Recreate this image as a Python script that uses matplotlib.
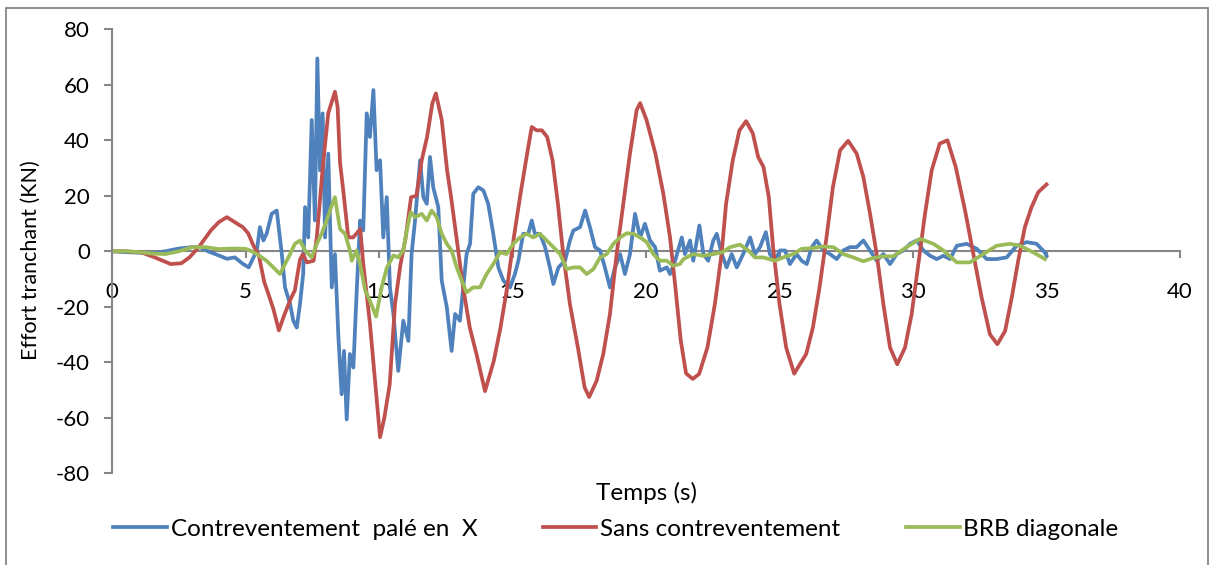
import matplotlib
matplotlib.use("Agg")
import matplotlib.pyplot as plt
from matplotlib.patches import Rectangle

plt.rcParams['font.family'] = ['Lato', 'DejaVu Sans']

# ---- data ----
t_x = [0, 0.5, 1.0, 1.5, 2.0, 2.5, 3.0, 3.3, 3.6, 4.0, 4.3, 4.6, 4.9, 5.12, 5.24, 5.36,
       5.42, 5.54, 5.67, 5.79, 5.98, 6.17, 6.36, 6.48, 6.67, 6.79, 6.92, 7.04, 7.16, 7.23,
       7.35, 7.48, 7.60, 7.69, 7.79, 7.89, 7.98, 8.10, 8.23, 8.35, 8.48, 8.60, 8.69, 8.79,
       8.91, 9.04, 9.16, 9.29, 9.41, 9.54, 9.66, 9.79, 9.91, 10.04, 10.16, 10.29, 10.41,
       10.54, 10.72, 10.91, 11.10, 11.22, 11.35, 11.54, 11.66, 11.79, 11.91, 12.03, 12.22,
       12.35, 12.54, 12.72, 12.85, 13.03, 13.28, 13.41, 13.53, 13.72, 13.91, 14.09, 14.28,
       14.47, 14.66, 14.91, 15.09, 15.22, 15.40, 15.59, 15.72, 15.84, 16.03, 16.22, 16.40,
       16.53, 16.72, 16.97, 17.15, 17.28, 17.53, 17.72, 17.90, 18.09, 18.28, 18.46, 18.65,
       18.84, 19.03, 19.21, 19.40, 19.59, 19.78, 19.96, 20.15, 20.34, 20.52, 20.78, 20.90,
       21.09, 21.34, 21.46, 21.65, 21.77, 22.00, 22.15, 22.33, 22.52, 22.65, 22.84, 23.02,
       23.21, 23.40, 23.64, 23.90, 24.08, 24.27, 24.49, 24.64, 24.83, 25.02, 25.21, 25.39,
       25.64, 25.83, 26.02, 26.21, 26.39, 26.64, 26.89, 27.14, 27.39, 27.64, 27.89, 28.14,
       28.39, 28.64, 28.89, 29.14, 29.39, 29.64, 29.89, 30.14, 30.39, 30.64, 30.89, 31.14,
       31.39, 31.64, 32.01, 32.39, 32.76, 33.13, 33.51, 33.88, 34.26, 34.63, 34.94, 35.0]
v_x = [0, -0.3, -0.5, -0.7, 0, 1, 1.5, 1.5, 0, -1.5, -2.7, -2.2, -4.5, -5.8, -3.4, -1,
       0, 8.7, 3.9, 6.3, 13.5, 14.7, -1, -13, -19, -25, -27.5, -19, -8.2, 15.9,
       5, 47.3, 11.1, 69.5, 29.2, 49.7, 5, 35.2, -13, -1, -31, -51.5, -35.9, -60.6,
       -37, -41.9, -15.4, 11.1, 7.5, 49.7, 41.2, 58.1, 29.2, 32.8, 5, 19.5, -13,
       -22.6, -43.1, -25, -32.3, -1, 11.1, 32.8, 19.5, 17.1, 34, 23.1, 15.9,
       -10.6, -20.2, -35.9, -22.6, -25, -1, 2.7, 20.7, 23.1, 21.9, 17.1, 6.3,
       -5.8, -10.6, -13, -8.2, -3.4, 6.3, 6.3, 11.1, 6.3, 6.3, 1.5, -5.8,
       -11.8, -5.8, -3.4, 3.9, 7.5, 8.7, 14.7, 8.7, 1.5, 0.3, -5.8, -13,
       -5.8, -1, -8.2, -1, 13.5, 5, 9.9, 3.9, 1.5, -7, -5.8, -8.2,
       -3.4, 5, -1, 3.9, -3.4, 9.3, -1, -3.4, 3.9, 6.3, -1, -5.8,
       -1, -5.8, -1, 5, -1, 1.5, 6.9, -1, -3.4, 0.3, 0.3, -4.6,
       -1, -3.4, -4.6, 1.5, 3.9, 0.3, -1, -2.8, 0.3, 1.5, 1.5, 3.9,
       0.3, -3.4, -1, -4.6, -1, 0.3, 2.7, 3.9, 0.3, -1.6, -2.8, -1.6,
       -2.8, 2, 2.7, 0.9, -2.8, -2.8, -2.2, 2, 3.3, 2.7, -0.4, -1.6]

t_sans = [0, 0.5, 1.1, 1.6, 2.2, 2.6, 2.9, 3.25, 3.7, 4.0, 4.3, 4.6, 4.9, 5.1, 5.3, 5.5,
          5.7, 5.9, 6.05, 6.25, 6.45, 6.7, 6.85, 7.04, 7.15, 7.3, 7.55, 7.67, 7.9, 8.1,
          8.35, 8.45, 8.54, 8.66, 8.85, 9.03, 9.3, 9.41, 9.66, 9.85, 10.04, 10.2, 10.4,
          10.6, 10.8, 11.0, 11.2, 11.4, 11.6, 11.8, 12.0, 12.13, 12.35, 12.55, 12.7, 12.9,
          13.15, 13.4, 13.65, 13.97, 14.3, 14.55, 14.8, 15.05, 15.3, 15.55, 15.72, 15.9,
          16.1, 16.3, 16.5, 16.7, 16.9, 17.15, 17.45, 17.7, 17.87, 18.15, 18.4, 18.65,
          18.9, 19.15, 19.4, 19.65, 19.78, 20.02, 20.35, 20.65, 20.9, 21.1, 21.3, 21.5,
          21.75, 21.99, 22.3, 22.58, 22.83, 23.0, 23.25, 23.5, 23.75, 24.0, 24.2, 24.4,
          24.6, 24.76, 25.0, 25.25, 25.55, 25.77, 26.0, 26.25, 26.5, 26.76, 27.0, 27.27,
          27.57, 27.89, 28.14, 28.39, 28.64, 28.89, 29.14, 29.41, 29.7, 29.95, 30.2, 30.45,
          30.7, 31.0, 31.29, 31.6, 31.95, 32.26, 32.57, 32.88, 33.16, 33.45, 33.7, 33.94,
          34.19, 34.44, 34.69, 35.0]
v_sans = [0, 0, -0.4, -2.2, -4.6, -4.3, -2.2, 1.5, 7.5, 10.5, 12.3, 10.5, 8.7, 6.5, 2.0, -1.5,
          -11, -16.6, -21, -28.5, -23, -17, -14, -3, -1, -4, -3.4, 5, 31, 49.8,
          57.5, 52, 32, 22, 5, 5, 8, -4.5, -26, -46.7, -67, -60, -48,
          -19, -5, 5, 19.5, 20, 32.8, 41.2, 53.4, 56.9, 47.3, 29.2, 19.5, 5,
          -13, -27.5, -37, -50.4, -39.5, -27.5, -13, 5, 20.7, 35.3, 44.8, 43.6,
          43.6, 41.2, 32.8, 17.2, -1, -19, -34.7, -49, -52.5, -46.7, -37, -22.6,
          -1, 17.2, 35.3, 50.9, 53.4, 47.3, 35.3, 20.7, 5, -13, -32, -44,
          -46, -44.2, -34.7, -19, -1, 17.2, 32.8, 43.6, 46.9, 42.5, 34, 30.4,
          19.5, 1.5, -19, -34.7, -44.1, -40.6, -37, -27.5, -13, 5, 23.1, 36.4,
          39.8, 35.2, 26.8, 13.6, -1, -19, -34.7, -40.7, -34.7, -22.6, -4.6, 13.5,
          29.2, 38.8, 40, 30.4, 14.7, -1, -16.6, -29.9, -33.5, -28.7, -16.6, -3.4,
          8.7, 15.9, 21.3, 24.1]

t_brb = [0, 0.5, 1.0, 1.5, 2.0, 2.5, 3.0, 3.5, 4.0, 4.5, 5.0, 5.24, 5.42, 5.79, 6.04, 6.29,
         6.48, 6.67, 6.85, 7.04, 7.23, 7.48, 7.67, 7.85, 8.04, 8.23, 8.35, 8.54, 8.73, 8.91,
         8.98, 9.16, 9.29, 9.48, 9.66, 9.89, 10.10, 10.29, 10.54, 10.72, 10.91, 11.04, 11.19,
         11.35, 11.60, 11.79, 11.97, 12.16, 12.35, 12.54, 12.72, 12.91, 13.10, 13.28, 13.53,
         13.78, 14.03, 14.28, 14.53, 14.78, 15.03, 15.28, 15.53, 15.78, 16.03, 16.28, 16.53,
         16.78, 17.03, 17.28, 17.53, 17.78, 18.03, 18.28, 18.53, 18.78, 19.03, 19.28, 19.53,
         19.78, 20.03, 20.27, 20.52, 20.78, 21.02, 21.27, 21.40, 21.77, 22.15, 22.52, 22.84,
         23.15, 23.52, 23.83, 24.08, 24.39, 24.83, 25.14, 25.52, 25.83, 26.27, 26.64, 27.02,
         27.39, 27.76, 28.14, 28.51, 28.89, 29.26, 29.76, 30.26, 30.76, 31.14, 31.64, 32.13,
         32.63, 33.13, 33.63, 34.01, 34.51, 34.94]
v_brb = [0, 0, -0.3, -0.8, -1, 0, 1.5, 1.5, 0.8, 1, 0.9, 0, -1, -3.4, -5.8, -8.2,
         -4.6, -1, 2.7, 3.9, 0.3, -2.2, 2.7, 6.3, 11.1, 16.5, 19.5, 8, 6.3, 0.3,
         -3.4, 0.3, -4.6, -14, -17.8, -23.5, -13, -6, -1.5, -2.2, 0.3, 7.5, 14.1,
         12.3, 13.5, 11.1, 14.7, 12.3, 6.3, 2.7, 0.3, -5.8, -10.6, -14.8, -13,
         -13, -8.2, -4.6, -0.4, -1, 2.7, 5, 6.3, 5, 6.3, 3.9, 1.5,
         -1, -6.4, -5.8, -5.8, -8.2, -6.4, -2.2, -1, 2.7, 5, 6.5, 6.3,
         5, 3.3, -1, -3.4, -3.4, -5.2, -4.6, -2.8, -1, -1.6, -1, -0.4,
         1.5, 2.4, 0.3, -2.2, -2.2, -3.4, -2.2, -1, 0.9, 1.2, 1.7, 1.5,
         -1, -2.2, -3.6, -2.4, -1.8, -1.8, 1.5, 4.5, 2.7, 0.3, -4, -4,
         -1, 2, 2.7, 2, -0.4, -2.8]

series_labels = ["Contreventement  palé en  X", "Sans contreventement", "BRB diagonale"]
colors = ["#4F81BD", "#C0504D", "#9BBB59"]
x_ticks = [0, 5, 10, 15, 20, 25, 30, 35, 40]
y_ticks = [-80, -60, -40, -20, 0, 20, 40, 60, 80]

# ---- figure ----
W, H = 1215, 565
fig = plt.figure(figsize=(W / 100, H / 100), dpi=100)
fig.patch.set_facecolor("white")
fig.patches.append(Rectangle((6 / W, -10 / H), (1208 - 6) / W, (557 + 10) / H,
                             transform=fig.transFigure, fill=False,
                             edgecolor="#868686", linewidth=1.3))

ax = fig.add_axes([112 / W, (H - 473.3) / H, 1068 / W, 444 / H])
ax.set_facecolor("none")

lw = 2.7
ax.plot(t_x, v_x, color=colors[0], lw=lw, label=series_labels[0], solid_joinstyle="round")
ax.plot(t_sans, v_sans, color=colors[1], lw=lw, label=series_labels[1], solid_joinstyle="round")
ax.plot(t_brb, v_brb, color=colors[2], lw=lw, label=series_labels[2], solid_joinstyle="round")

ax.set_xlim(0, 40)
ax.set_ylim(-80, 80)
ax.set_xticks(x_ticks)
ax.set_yticks(y_ticks)

gray = "#868686"
for s in ["top", "right"]:
    ax.spines[s].set_visible(False)
ax.spines["bottom"].set_position(("data", 0))
ax.spines["bottom"].set_color(gray)
ax.spines["left"].set_color(gray)
ax.spines["bottom"].set_linewidth(1.5)
ax.spines["left"].set_linewidth(1.5)
ax.spines["bottom"].set_zorder(0.5)

fs_tick = 16
fs_text = 17.5
ax.tick_params(axis="y", direction="out", length=6, width=1.5, color=gray,
               labelsize=fs_tick, pad=10)
ax.tick_params(axis="x", direction="out", length=5, width=1.5, color=gray,
               labelsize=fs_tick, pad=17)
ax.set_yticklabels([str(v) for v in y_ticks])

ax.set_ylabel("Effort tranchant (KN)", fontsize=15.5)
ax.yaxis.set_label_coords(-(112 - 41) / 1068, 0.48)
ax.set_xlabel("Temps (s)", fontsize=fs_text)
ax.xaxis.set_label_coords(0.5, -(493 - 473.3) / 444)
ax.xaxis.label.set_verticalalignment("center")

fig.legend(loc="center", bbox_to_anchor=(616 / W, (H - 529) / H), ncol=3,
           frameon=False, fontsize=fs_text, handlelength=2.2, handletextpad=0.16,
           columnspacing=2.7)

fig.savefig("out.png", dpi=100, facecolor="white")
